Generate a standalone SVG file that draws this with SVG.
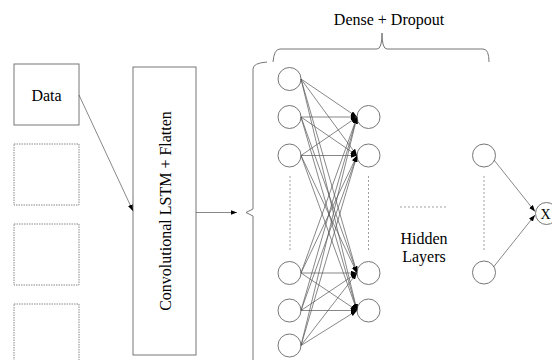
<svg xmlns="http://www.w3.org/2000/svg" width="552" height="360" viewBox="0 0 552 360">
  <style>
    .box { fill: #fff; stroke: #777; stroke-width: 1; }
    .ghost { fill: #fff; stroke: #888; stroke-width: 1; stroke-dasharray: 1.5 1; }
    .node { fill: #fff; stroke: #666; stroke-width: 0.9; }
    .edge { fill: none; stroke: #555; stroke-width: 0.7; marker-end: url(#tip); }
    .brace { fill: none; stroke: #777; stroke-width: 1; }
    .dots { fill: none; stroke: #888; stroke-width: 0.8; stroke-dasharray: 2 2; }
    .lbl { font-family: 'Liberation Serif', 'Times New Roman', Times, serif; font-size: 16px; fill: #000; }
  </style>
  <defs>
    <marker id="tip" viewBox="0 0 8 6" markerWidth="6.5" markerHeight="5" refX="8" refY="3" orient="auto" markerUnits="userSpaceOnUse">
      <path d="M0,0 L8,3 L0,6 z" fill="#000"/>
    </marker>
  </defs>

  <rect width="552" height="360" fill="#fff"/>

  <!-- input frames -->
  <g id="data">
    <rect class="box" x="14" y="64" width="65" height="61"/>
    <text class="lbl" x="46.5" y="101" text-anchor="middle">Data</text>
  </g>
  <g id="frame2"><rect class="ghost" x="14" y="144" width="65" height="61"/></g>
  <g id="frame3"><rect class="ghost" x="14" y="224" width="65" height="61"/></g>
  <g id="frame4"><rect class="ghost" x="14" y="304" width="65" height="61"/></g>

  <!-- ConvLSTM block -->
  <g id="convlstm">
    <rect class="box" x="133" y="67" width="63" height="288"/>
    <text class="lbl" transform="translate(171,211) rotate(-90)" text-anchor="middle">Convolutional LSTM + Flatten</text>
  </g>

  <!-- braces -->
  <g id="braces">
    <path class="brace" d="M267,62 Q253,63 253,69 L253,209 L246,212.5 L253,216 L253,365"/>
    <path class="brace" d="M273,62 Q274,49 280,49 L377,49 Q382,49 382,33 Q382,49 387,49 L483,49 Q489,49 489,62"/>
    <text class="lbl" x="389" y="25" text-anchor="middle">Dense + Dropout</text>
  </g>

  <!-- dense layer nodes -->
  <g id="in1"><circle class="node" cx="289.5" cy="79" r="11.5"/></g>
  <g id="in2"><circle class="node" cx="289.5" cy="117" r="11.5"/></g>
  <g id="in3"><circle class="node" cx="289.5" cy="155.5" r="11.5"/></g>
  <g id="in4"><circle class="node" cx="289.5" cy="273" r="11.5"/></g>
  <g id="in5"><circle class="node" cx="289.5" cy="310.5" r="11.5"/></g>
  <g id="in6"><circle class="node" cx="289.5" cy="345.5" r="11.5"/></g>
  <g id="h1"><circle class="node" cx="368.5" cy="117" r="11.5"/></g>
  <g id="h2"><circle class="node" cx="368.5" cy="155.5" r="11.5"/></g>
  <g id="h3"><circle class="node" cx="368.5" cy="273" r="11.5"/></g>
  <g id="h4"><circle class="node" cx="368.5" cy="310.5" r="11.5"/></g>
  <g id="o1"><circle class="node" cx="484" cy="155.5" r="11.5"/></g>
  <g id="o2"><circle class="node" cx="484" cy="272.5" r="11.5"/></g>
  <g id="out">
    <circle class="node" cx="546.5" cy="213.5" r="11"/>
    <text class="lbl" x="545.5" y="218.5" text-anchor="middle" style="font-size:14px">X</text>
  </g>

  <!-- ellipsis lines and hidden layers label -->
  <g id="hidden">
    <line class="dots" x1="290" y1="176" x2="290" y2="252"/>
    <line class="dots" x1="368.5" y1="176" x2="368.5" y2="252"/>
    <line class="dots" x1="484" y1="176" x2="484" y2="252"/>
    <line class="dots" x1="400" y1="207" x2="448" y2="207" stroke-dasharray="1.5 1.5"/>
    <text class="lbl" x="424" y="244" text-anchor="middle">Hidden</text>
    <text class="lbl" x="424" y="262" text-anchor="middle">Layers</text>
  </g>

  <!-- connectors -->
  <g id="connectors">
    <line class="edge" x1="79" y1="95" x2="133" y2="211"/>
    <line class="edge" x1="196" y1="212.5" x2="237" y2="212.5"/>

    <line class="edge" x1="301" y1="79" x2="357" y2="117"/>
    <line class="edge" x1="301" y1="79" x2="357" y2="155.5"/>
    <line class="edge" x1="301" y1="79" x2="357" y2="273"/>
    <line class="edge" x1="301" y1="79" x2="357" y2="310.5"/>

    <line class="edge" x1="301" y1="117" x2="357" y2="117"/>
    <line class="edge" x1="301" y1="117" x2="357" y2="155.5"/>
    <line class="edge" x1="301" y1="117" x2="357" y2="273"/>
    <line class="edge" x1="301" y1="117" x2="357" y2="310.5"/>

    <line class="edge" x1="301" y1="155.5" x2="357" y2="117"/>
    <line class="edge" x1="301" y1="155.5" x2="357" y2="155.5"/>
    <line class="edge" x1="301" y1="155.5" x2="357" y2="273"/>
    <line class="edge" x1="301" y1="155.5" x2="357" y2="310.5"/>

    <line class="edge" x1="301" y1="273" x2="357" y2="117"/>
    <line class="edge" x1="301" y1="273" x2="357" y2="155.5"/>
    <line class="edge" x1="301" y1="273" x2="357" y2="273"/>
    <line class="edge" x1="301" y1="273" x2="357" y2="310.5"/>

    <line class="edge" x1="301" y1="310.5" x2="357" y2="117"/>
    <line class="edge" x1="301" y1="310.5" x2="357" y2="155.5"/>
    <line class="edge" x1="301" y1="310.5" x2="357" y2="273"/>
    <line class="edge" x1="301" y1="310.5" x2="357" y2="310.5"/>

    <line class="edge" x1="301" y1="345.5" x2="357" y2="117"/>
    <line class="edge" x1="301" y1="345.5" x2="357" y2="155.5"/>
    <line class="edge" x1="301" y1="345.5" x2="357" y2="273"/>
    <line class="edge" x1="301" y1="345.5" x2="357" y2="310.5"/>

    <line class="edge" x1="494" y1="160" x2="535" y2="211.5"/>
    <line class="edge" x1="493.5" y1="267" x2="535" y2="215"/>
  </g>
</svg>
